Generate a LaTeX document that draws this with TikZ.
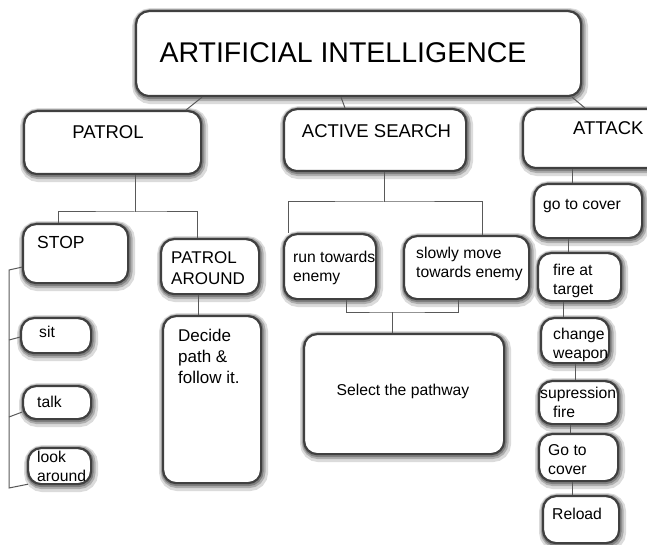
\documentclass[tikz,border=0pt]{standalone}
\usepackage{fontspec}
\setmainfont{Liberation Sans}
\newcommand\mkbox[5]{\node[box, anchor=north west, minimum width={#4-#2}, minimum height={#5-#3}] (#1) at (#2,#3) {};}
\begin{document}
\begin{tikzpicture}[x=1pt,y=-1pt,
  box/.style={rectangle, rounded corners=13pt, fill=white, draw=black!75, line width=2.2pt,
    preaction={draw=black!14, line width=11pt, transform canvas={shift={(1.5pt,-2.5pt)}}},
    preaction={draw=black!32, line width=7pt, transform canvas={shift={(1pt,-1.5pt)}}},
    preaction={draw=black!50, line width=4pt, transform canvas={shift={(0.5pt,-1pt)}}}},
  conn/.style={draw=black!65, line width=1pt},
  lbl/.style={inner sep=0pt, anchor=north west, align=left, font=\fontsize{15.7}{19}\selectfont},
  head/.style={inner sep=0pt, font=\fontsize{18.5}{22}\selectfont}]
\useasboundingbox (0,0) rectangle (647,545);
% boxes
\mkbox{ai}{135}{10}{580}{95}
\mkbox{patrol}{23}{110}{200}{173}
\mkbox{active}{283}{108}{465}{170}
\mkbox{attack}{522}{108}{700}{167}
\mkbox{stop}{22}{223}{127}{282}
\mkbox{pa}{160}{238}{258}{293}
\mkbox{decide}{162}{315}{260}{482}
\mkbox{sit}{20}{317}{90}{352}
\mkbox{talk}{22}{385}{90}{418}
\mkbox{look}{27}{447}{90}{483}
\mkbox{run}{283}{233}{375}{298}
\mkbox{slow}{403}{235}{528}{298}
\mkbox{select}{303}{333}{503}{453}
\mkbox{cover}{533}{183}{641}{237}
\mkbox{fire}{537}{252}{620}{300}
\mkbox{change}{540}{317}{608}{362}
\mkbox{supp}{538}{380}{617}{423}
\mkbox{cover2}{538}{433}{617}{480}
\mkbox{reload}{542}{495}{618}{542}
% connectors
\draw[conn] ([xshift=67pt]ai.south west) -- ([xshift=163pt]patrol.north west);
\draw[conn] ([xshift=206pt]ai.south west) -- ([xshift=62pt]active.north west);
\draw[conn] ([xshift=437pt]ai.south west) -- ([xshift=63pt]attack.north west);
\coordinate (pj) at (135,212);
\draw[conn] (patrol.south -| pj) -- (pj);
\draw[conn] ([xshift=36pt]stop.north west) |- (pj) -| ([xshift=37pt]pa.north west);
\draw[conn] ([xshift=38pt]pa.south west) -- ([xshift=36pt]decide.north west);
\coordinate (lb1) at (9,270);
\coordinate (lb2) at (9,488);
\coordinate (ls) at (9,340);
\coordinate (lt) at (9,417);
\draw[conn] ([yshift=-13.5pt]stop.west) -- (lb1) -- (lb2) -- ([shift={(1pt,1pt)}]look.south west);
\draw[conn] (ls) -- ([yshift=-1.5pt]sit.west);
\draw[conn] (lt) -- ([yshift=-9.5pt]talk.west);
\coordinate (aj) at (384,202);
\draw[conn] (active.south -| aj) -- (aj);
\draw[conn] ([xshift=5pt]run.north west) |- (aj) -| ([xshift=79pt]slow.north west);
\coordinate (bj) at (392,312);
\draw[conn] ([xshift=63pt]run.south west) |- (bj) -| ([xshift=55pt]slow.south west);
\draw[conn] (bj) -- (select.north -| bj);
\draw[conn] ([xshift=50pt]attack.south west) -- ([xshift=39pt]cover.north west);
\draw[conn] ([xshift=35pt]cover.south west) -- ([xshift=31pt]fire.north west);
\draw[conn] ([xshift=26pt]fire.south west) -- ([xshift=23pt]change.north west);
\draw[conn] ([xshift=35pt]change.south west) -- ([xshift=37pt]supp.north west);
\draw[conn] ([xshift=32pt]supp.south west) -- ([xshift=32pt]cover2.north west);
\draw[conn] ([xshift=34pt]cover2.south west) -- ([xshift=30pt]reload.north west);
% texts
\node[head, font=\fontsize{28.5}{34}\selectfont] (t-ai) at (343,52.5) {ARTIFICIAL INTELLIGENCE};
\node[head] (t-patrol) at (108,132) {PATROL};
\node[head] (t-active) at (376.5,131.5) {ACTIVE SEARCH};
\node[head, anchor=west] (t-attack) at (573,128.5) {ATTACK};
\node[lbl, font=\fontsize{17.5}{21}\selectfont] (t-stop) at (37,236) {STOP};
\node[lbl, font=\fontsize{17}{21}\selectfont] (t-pa) at (171,251) {PATROL\\AROUND};
\node[lbl, font=\fontsize{17}{21}\selectfont] (t-decide) at (178,329) {Decide\\path \&\\follow it.};
\node[lbl] (t-sit) at (39,326) {sit};
\node[lbl] (t-talk) at (37,396) {talk};
\node[lbl] (t-look) at (37,451) {look\\around};
\node[lbl] (t-run) at (293,251) {run towards\\enemy};
\node[lbl] (t-slow) at (416,247) {slowly move\\towards enemy};
\node[lbl, anchor=base] (t-select) at (403,395) {Select the pathway};
\node[lbl] (t-cover) at (543,199) {go to cover};
\node[lbl] (t-fire) at (553,264) {fire at\\target};
\node[lbl] (t-change) at (553,328) {change\\weapon};
\node[lbl] (t-supp) at (540,387) {supression\\\hspace*{13pt}fire};
\node[lbl] (t-cover2) at (548,444) {Go to\\cover};
\node[lbl] (t-reload) at (552,508) {Reload};
\end{tikzpicture}
\end{document}
